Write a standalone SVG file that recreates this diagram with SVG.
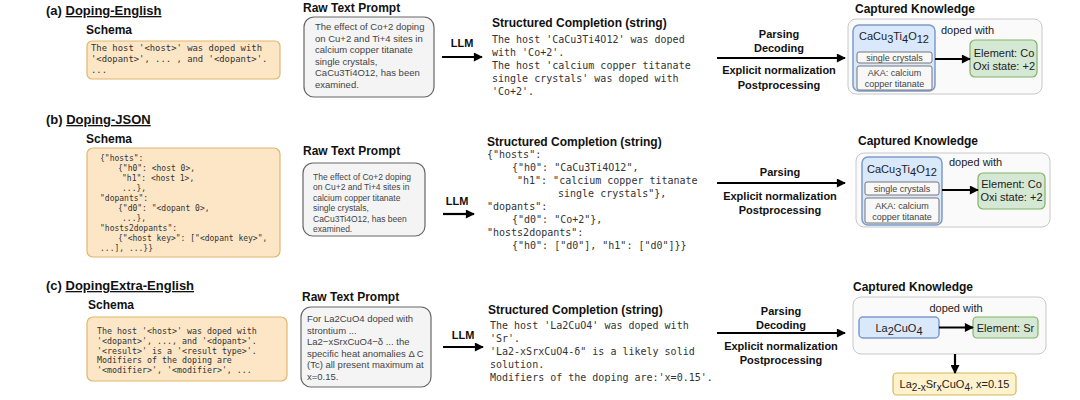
<svg xmlns="http://www.w3.org/2000/svg" width="1080" height="400" viewBox="0 0 1080 400">
<style>
text{font-family:"Liberation Sans",Arial,sans-serif;fill:#111}
.title{font-size:13px;font-weight:bold}
.ul{text-decoration:underline}
.head{font-size:12px;font-weight:bold}
.lab{font-size:11px;font-weight:bold}
.mono{font-family:"DejaVu Sans Mono","Liberation Mono",monospace;fill:#333}
.raw{fill:#444}
.schema{fill:#fce6c6;stroke:#e2b66c;stroke-width:1.2}
.prompt{fill:#f4f4f4;stroke:#666;stroke-width:1.2}
.outer{fill:#fafafa;stroke:#c8c8c8;stroke-width:1}
.blue{fill:#dae8fc;stroke:#7d9cc9;stroke-width:1.5}
.green{fill:#d5e8d4;stroke:#82b366;stroke-width:1.2}
.yellow{fill:#fff2cc;stroke:#d6b656;stroke-width:1.2}
.sub{fill:#f8f8f8;stroke:#777;stroke-width:1}
.kg{font-size:11px;fill:#222}
.small{font-size:9px;fill:#444}
.arr{stroke:#000;stroke-width:2.2;fill:none;marker-end:url(#ah)}
</style>
<defs>
<marker id="ah" viewBox="0 0 10 10" refX="9" refY="5" markerUnits="userSpaceOnUse" markerWidth="10" markerHeight="9" orient="auto">
<path d="M0,0 L10,5 L0,10 z" fill="#000"/>
</marker>
</defs>
<rect width="1080" height="400" fill="#fff"/>

<!-- Row (a) -->
<g id="title-a"><text class="title" x="46" y="15">(a) <tspan class="ul">Doping-English</tspan></text></g>
<g id="schema-a">
<text class="head" x="86" y="34">Schema</text>
<rect class="schema" x="87" y="41" width="193" height="38" rx="5"/>
<text class="mono" font-size="8.9" x="91" y="50.5">The host '&lt;host&gt;' was doped with</text>
<text class="mono" font-size="8.9" x="91" y="61.5">'&lt;dopant&gt;', ... , and '&lt;dopant&gt;'.</text>
<text class="mono" font-size="8.9" x="91" y="72.5">...</text>
</g>
<g id="prompt-a">
<text class="head" x="303" y="12">Raw Text Prompt</text>
<rect class="prompt" x="304" y="17" width="130" height="80" rx="10"/>
<g class="raw" font-size="9.5">
<text class="raw" x="315" y="30">The effect of Co+2 doping</text>
<text class="raw" x="315" y="41.6">on Cu+2 and Ti+4 sites in</text>
<text class="raw" x="315" y="53.2">calcium copper titanate</text>
<text class="raw" x="315" y="64.8">single crystals,</text>
<text class="raw" x="315" y="76.4">CaCu3Ti4O12, has been</text>
<text class="raw" x="315" y="88">examined.</text>
</g>
</g>
<g id="completion-a">
<text class="head" x="492" y="27">Structured Completion (string)</text>
<g font-size="10">
<text class="mono" x="492" y="43">The host 'CaCu3Ti4O12' was doped</text>
<text class="mono" x="492" y="56">with 'Co+2'.</text>
<text class="mono" x="492" y="69">The host 'calcium copper titanate</text>
<text class="mono" x="492" y="82">single crystals' was doped with</text>
<text class="mono" x="492" y="95">'Co+2'.</text>
</g>
</g>
<g id="labels-a" text-anchor="middle">
<text class="lab" x="462" y="47">LLM</text>
<text class="lab" x="779" y="38">Parsing</text>
<text class="lab" x="779" y="52">Decoding</text>
<text class="lab" x="779" y="74">Explicit normalization</text>
<text class="lab" x="779" y="89">Postprocessing</text>
</g>
<g id="knowledge-a">
<text class="head" x="855" y="13">Captured Knowledge</text>
<rect class="outer" x="848" y="19" width="194" height="75" rx="8"/>
<rect class="blue" x="853" y="25" width="82" height="66" rx="6"/>
<text class="kg" x="894" y="40" text-anchor="middle">CaCu<tspan dy="3">3</tspan><tspan dy="-3">Ti</tspan><tspan dy="3">4</tspan><tspan dy="-3">O</tspan><tspan dy="3">12</tspan></text>
<rect class="sub" x="857" y="52" width="75" height="11" rx="2"/>
<text class="small" x="894.5" y="60.5" text-anchor="middle">single crystals</text>
<rect class="sub" x="857" y="66" width="75" height="24" rx="2"/>
<text class="small" x="894.5" y="75.5" text-anchor="middle">AKA: calcium</text>
<text class="small" x="894.5" y="86.5" text-anchor="middle">copper titanate</text>
<text class="kg" font-size="10.5" x="941" y="34">doped with</text>
<rect class="green" x="970" y="40" width="67" height="37" rx="5"/>
<text class="kg" x="1004" y="56.5" text-anchor="middle">Element: Co</text>
<text class="kg" x="1004" y="70" text-anchor="middle">Oxi state: +2</text>
</g>

<!-- Row (b) -->
<g id="title-b"><text class="title" x="46" y="124">(b) <tspan class="ul">Doping-JSON</tspan></text></g>
<g id="schema-b">
<text class="head" x="86" y="143">Schema</text>
<rect class="schema" x="87" y="148" width="193" height="109" rx="6"/>
<g font-size="8">
<text class="mono" x="100" y="160.5">{"hosts":</text>
<text class="mono" x="118" y="170.5">{"h0": &lt;host 0&gt;,</text>
<text class="mono" x="122" y="180.5">"h1": &lt;host 1&gt;,</text>
<text class="mono" x="122" y="190.5">...},</text>
<text class="mono" x="100" y="200.5">"dopants":</text>
<text class="mono" x="118" y="210.5">{"d0": "&lt;dopant 0&gt;,</text>
<text class="mono" x="122" y="220.5">...},</text>
<text class="mono" x="100" y="230.5">"hosts2dopants":</text>
<text class="mono" x="118" y="240.5">{"&lt;host key&gt;": ["&lt;dopant key&gt;",</text>
<text class="mono" x="100" y="250.5">...], ...}}</text>
</g>
</g>
<g id="prompt-b">
<text class="head" x="303" y="155">Raw Text Prompt</text>
<rect class="prompt" x="303" y="163" width="122" height="73" rx="10"/>
<g font-size="8.5">
<text class="raw" x="313" y="179.5">The effect of Co+2 doping</text>
<text class="raw" x="313" y="190">on Cu+2 and Ti+4 sites in</text>
<text class="raw" x="313" y="200.5">calcium copper titanate</text>
<text class="raw" x="313" y="211">single crystals,</text>
<text class="raw" x="313" y="221.5">CaCu3Ti4O12, has been</text>
<text class="raw" x="313" y="232">examined.</text>
</g>
</g>
<g id="completion-b">
<text class="head" x="487" y="146">Structured Completion (string)</text>
<g font-size="10">
<text class="mono" x="487" y="158">{"hosts":</text>
<text class="mono" x="512" y="171">{"h0": "CaCu3Ti4O12",</text>
<text class="mono" x="517" y="184">"h1": "calcium copper titanate</text>
<text class="mono" x="558" y="197">single crystals"},</text>
<text class="mono" x="487" y="210">"dopants":</text>
<text class="mono" x="512" y="223">{"d0": "Co+2"},</text>
<text class="mono" x="487" y="236">"hosts2dopants":</text>
<text class="mono" x="512" y="249">{"h0": ["d0"], "h1": ["d0"]}}</text>
</g>
</g>
<g id="labels-b" text-anchor="middle">
<text class="lab" x="457" y="205">LLM</text>
<text class="lab" x="780" y="176">Parsing</text>
<text class="lab" x="780" y="200">Explicit normalization</text>
<text class="lab" x="780" y="214">Postprocessing</text>
</g>
<g id="knowledge-b">
<text class="head" x="858" y="145">Captured Knowledge</text>
<rect class="outer" x="856" y="153" width="194" height="74" rx="8"/>
<rect class="blue" x="862" y="157" width="80" height="68" rx="6"/>
<text class="kg" x="902" y="173" text-anchor="middle">CaCu<tspan dy="3">3</tspan><tspan dy="-3">Ti</tspan><tspan dy="3">4</tspan><tspan dy="-3">O</tspan><tspan dy="3">12</tspan></text>
<rect class="sub" x="865" y="182" width="74" height="13" rx="2"/>
<text class="small" x="902" y="191.5" text-anchor="middle">single crystals</text>
<rect class="sub" x="865" y="198" width="74" height="25" rx="2"/>
<text class="small" x="902" y="208.5" text-anchor="middle">AKA: calcium</text>
<text class="small" x="902" y="219.5" text-anchor="middle">copper titanate</text>
<text class="kg" font-size="10.5" x="949" y="166">doped with</text>
<rect class="green" x="978" y="173" width="67" height="36" rx="5"/>
<text class="kg" x="1011.5" y="188" text-anchor="middle">Element: Co</text>
<text class="kg" x="1011.5" y="201" text-anchor="middle">Oxi state: +2</text>
</g>

<!-- Row (c) -->
<g id="title-c"><text class="title" x="46" y="290">(c) <tspan class="ul">DopingExtra-English</tspan></text></g>
<g id="schema-c">
<text class="head" x="88" y="309">Schema</text>
<rect class="schema" x="87" y="317" width="200" height="64" rx="6"/>
<g font-size="8.3">
<text class="mono" x="97" y="334">The host '&lt;host&gt;' was doped with</text>
<text class="mono" x="97" y="343.8">'&lt;dopant&gt;', ..., and '&lt;dopant&gt;'.</text>
<text class="mono" x="97" y="353.6">'&lt;result&gt;' is a '&lt;result type&gt;'.</text>
<text class="mono" x="97" y="363.4">Modifiers of the doping are</text>
<text class="mono" x="97" y="373.2">'&lt;modifier&gt;', '&lt;modifier&gt;', ...</text>
</g>
</g>
<g id="prompt-c">
<text class="head" x="302" y="301">Raw Text Prompt</text>
<rect class="prompt" x="301" y="307" width="130" height="80" rx="10"/>
<g font-size="9.5">
<text class="raw" x="307" y="322">For La2CuO4 doped with</text>
<text class="raw" x="307" y="333.6">strontium ...</text>
<text class="raw" x="307" y="345.2">La2−xSrxCuO4−δ ... the</text>
<text class="raw" x="307" y="356.8">specific heat anomalies Δ C</text>
<text class="raw" x="307" y="368.4">(Tc) all present maximum at</text>
<text class="raw" x="307" y="380">x=0.15.</text>
</g>
</g>
<g id="completion-c">
<text class="head" x="488" y="314">Structured Completion (string)</text>
<g font-size="10">
<text class="mono" x="490" y="328.5">The host 'La2CuO4' was doped with</text>
<text class="mono" x="490" y="341.5">'Sr'.</text>
<text class="mono" x="490" y="354.5">'La2-xSrxCuO4-δ" is a likely solid</text>
<text class="mono" x="490" y="367.5">solution.</text>
<text class="mono" x="490" y="380.5">Modifiers of the doping are:'x=0.15'.</text>
</g>
</g>
<g id="labels-c" text-anchor="middle">
<text class="lab" x="463" y="339">LLM</text>
<text class="lab" x="781" y="315">Parsing</text>
<text class="lab" x="781" y="329">Decoding</text>
<text class="lab" x="781" y="350">Explicit normalization</text>
<text class="lab" x="781" y="364">Postprocessing</text>
</g>
<g id="knowledge-c">
<text class="head" x="853" y="291">Captured Knowledge</text>
<rect class="outer" x="853" y="297" width="193" height="57" rx="8"/>
<text class="kg" font-size="10.5" x="956" y="312" text-anchor="middle">doped with</text>
<rect class="blue" x="859" y="317" width="80" height="21" rx="4"/>
<text class="kg" x="899" y="332" text-anchor="middle">La<tspan dy="3">2</tspan><tspan dy="-3">CuO</tspan><tspan dy="3">4</tspan></text>
<rect class="green" x="973" y="317" width="65" height="21" rx="4"/>
<text class="kg" x="1005.5" y="332" text-anchor="middle">Element: Sr</text>
</g>
<g id="result-c">
<rect class="yellow" x="893" y="373" width="123" height="22" rx="4"/>
<text class="kg" x="954.5" y="388" text-anchor="middle">La<tspan font-size="10" dy="3">2-x</tspan><tspan dy="-3">Sr</tspan><tspan font-size="10" dy="3">x</tspan><tspan dy="-3">CuO</tspan><tspan font-size="10" dy="3">4</tspan><tspan dy="-3">, x=0.15</tspan></text>
</g>

<!-- Connectors -->
<g id="connectors">
<line class="arr" x1="442" y1="57" x2="482" y2="57"/>
<line class="arr" x1="717" y1="58" x2="845" y2="58"/>
<line class="arr" x1="935" y1="59" x2="970" y2="59"/>
<line class="arr" x1="443" y1="214" x2="474" y2="214"/>
<line class="arr" x1="717" y1="183" x2="845" y2="183"/>
<line class="arr" x1="942" y1="190" x2="978" y2="190"/>
<line class="arr" x1="443" y1="347" x2="483" y2="347"/>
<line class="arr" x1="717" y1="333" x2="845" y2="333"/>
<line class="arr" x1="939" y1="327.5" x2="973" y2="327.5"/>
<line class="arr" x1="955" y1="354" x2="955" y2="373"/>
</g>
</svg>
